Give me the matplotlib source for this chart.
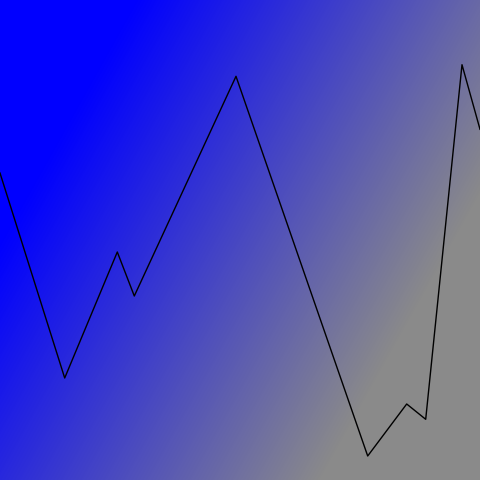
import numpy as np
import matplotlib
matplotlib.use("Agg")
import matplotlib.pyplot as plt
from matplotlib.colors import LinearSegmentedColormap

# line points
xs = [0, 64.7, 117.3, 134.3, 236, 367.7, 406.7, 425.7, 462, 480]
ys = [307, 102, 228, 184, 403.7, 24, 76, 60.7, 415.3, 350.7]

fig = plt.figure(figsize=(4.8, 4.8), dpi=100)
ax = fig.add_axes([0, 0, 1, 1])

# background gradient, blue top-left to gray bottom-right
# row 0 of the array is the top of the picture
gx, gy = np.meshgrid(np.arange(480) + 0.5, np.arange(480) + 0.5)
t = gx + 0.56 * gy
cmap = LinearSegmentedColormap.from_list('bg', ['#0000ff', '#8a8a8a'])
ax.imshow(t, cmap=cmap, vmin=135, vmax=590, extent=[0, 480, 0, 480],
          origin='upper', aspect='auto', interpolation='bicubic', zorder=0)

ax.plot(xs, ys, color='black', lw=1.0, zorder=2)
ax.set_xlim(0, 480)
ax.set_ylim(0, 480)
ax.axis('off')

fig.savefig('out.png', dpi=100)
